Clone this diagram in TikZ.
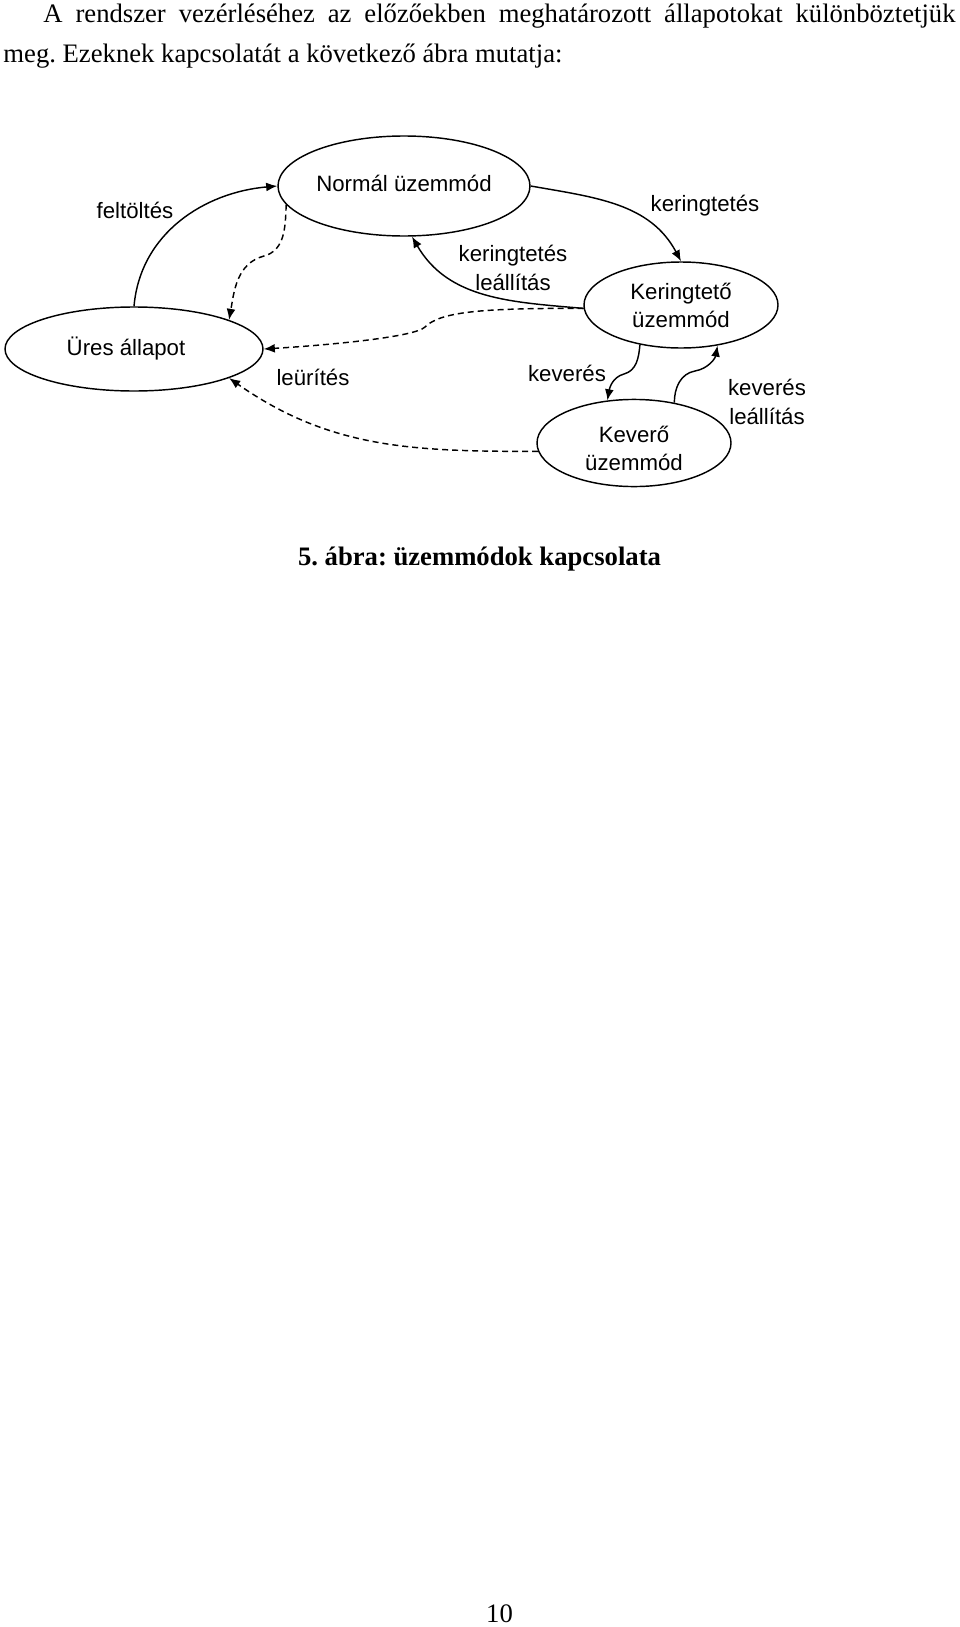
\documentclass[tikz,border=0pt]{standalone}
\usepackage{fontspec}
\setmainfont{Liberation Serif}
\newfontfamily\diafont{Liberation Sans}
\usetikzlibrary{shapes.geometric,arrows.meta}
\frenchspacing

\begin{document}
\begin{tikzpicture}[x=0.45pt, y=-0.45pt,
    mode/.style={draw, ellipse, line width=0.65pt, inner sep=0pt, align=center, font=\diafont\fontsize{10}{12.6}\selectfont},
    modetext/.style={inner sep=0pt, align=center, font=\diafont\fontsize{10}{12.6}\selectfont},
    trans/.style={line width=0.65pt, -{Latex[length=5pt, width=4pt]}},
    dtrans/.style={trans, dash pattern=on 2.7pt off 1.8pt},
    lbl/.style={inner sep=0pt, align=center, font=\diafont\fontsize{10}{13.3}\selectfont},
    body/.style={inner sep=0pt, font=\fontsize{12}{14}\selectfont}]
    \useasboundingbox (0,0) rectangle (960,1627);

    \node[body, anchor=base west] (sor1) at (43,22)
        {\makebox[410.4pt][s]{A rendszer vezérléséhez az előzőekben meghatározott állapotokat különböztetjük}};
    \node[body, anchor=base west] (sor2) at (3,62) {meg. Ezeknek kapcsolatát a következő ábra mutatja:};

    \node[mode, minimum width=113.4pt, minimum height=45pt,
        label={[modetext, yshift=1.35pt]center:Normál üzemmód}] (norm) at (404,186) {};
    \node[mode, minimum width=116.1pt, minimum height=37.8pt,
        label={[modetext, xshift=-3.6pt]center:Üres állapot}] (ures) at (134,349) {};
    \node[mode, minimum width=87.3pt, minimum height=38.7pt] (kering) at (681,305) {Keringtető\\üzemmód};
    \node[mode, minimum width=87.3pt, minimum height=39.2pt,
        label={[modetext, yshift=-2.25pt]center:Keverő\\üzemmód}] (kever) at (634,443) {};

    \draw[trans] (ures.north) to[out=85, in=185] (norm.west);
    \node[lbl] (feltoltes) at (135,210) {feltöltés};

    \draw[trans] (norm.east) to[out=-10, in=118] (kering.north);
    \node[lbl] (kert) at (705,206) {keringtetés};

    \draw[trans] (kering.182) to[out=175, in=-60] (norm.-81);
    \node[lbl] (kertle) at (513,268) {keringtetés\\leállítás};

    \draw[dtrans] (norm.189) to[out=-92, in=15] (264,256) to[out=195, in=80] (ures.17);
    \draw[dtrans] (kering.182) .. controls (480,308) and (440,312) .. (425,327)
        .. controls (415,337) and (330,345) .. (ures.east);
    \draw[dtrans] (kever.185) to[out=180, in=-35] (ures.-17);
    \node[lbl] (leurites) at (313,377) {leürítés};

    \draw[trans] (kering.-136) to[out=-95, in=15] (624,374) to[out=195, in=80] (kever.122);
    \node[lbl] (keveres) at (567,373) {keverés};

    \draw[trans] (kever.45) to[out=90, in=190] (695,371) to[out=10, in=-100] (kering.-48);
    \node[lbl] (keverle) at (767,402) {keverés\\leállítás};

    \node[body, anchor=base, font=\bfseries\fontsize{12}{14}\selectfont] (abra) at (479.5,565) {5. ábra: üzemmódok kapcsolata};
    \node[body, anchor=base] (oldal) at (499.5,1622) {10};
\end{tikzpicture}
\end{document}
